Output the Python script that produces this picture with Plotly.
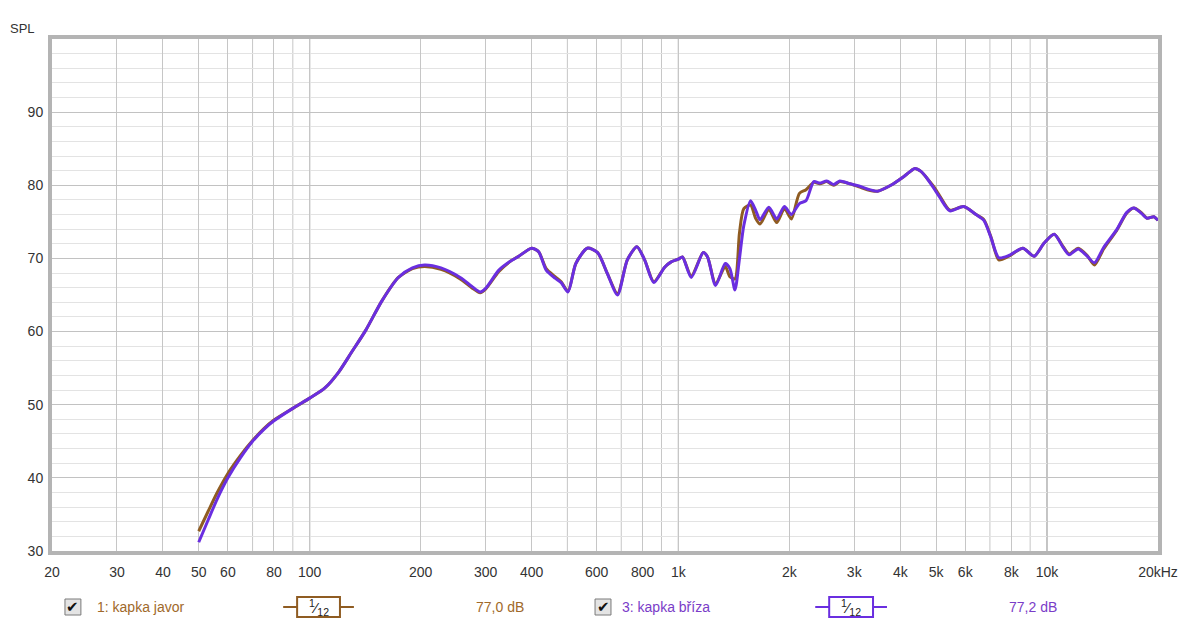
import plotly.graph_objects as go
import numpy as np

# ---------------- data ----------------
freq = [50, 53, 56, 60, 65, 70, 75, 80, 90, 100, 110, 120, 130, 142, 157, 174, 190, 205, 227, 256,
        275, 290, 300, 326, 350, 369, 400, 418, 438, 463, 481, 502, 527, 566, 604, 641, 684,
        727, 772, 810, 858, 918, 954, 1000, 1026, 1084, 1168, 1200, 1262, 1340, 1380, 1424,
        1465, 1505, 1570, 1620, 1666, 1760, 1848, 1940, 2025, 2130, 2220, 2330, 2420, 2527,
        2640, 2740, 2920, 3090, 3255, 3470, 3770, 4115, 4380, 4550, 4720, 4930, 5125, 5450,
        5940, 6420, 6740, 7040, 7400, 7880, 8600, 9230, 9820, 10460, 11060, 11480, 12150,
        12800, 13450, 14240, 15440, 16460, 17200, 18000, 18680, 19500, 20000]

spl_briza = [31.2, 34.2, 37.0, 40.0, 42.8, 45.0, 46.6, 47.8, 49.5, 50.9, 52.3, 54.5, 57.2, 60.2, 64.2,
             67.4, 68.7, 69.1, 68.7, 67.4, 66.2, 65.4, 65.9, 68.4, 69.6, 70.3, 71.4, 70.9, 68.4,
             67.3, 66.7, 65.4, 69.3, 71.4, 70.8, 68.0, 65.0, 69.8, 71.6, 69.8, 66.7, 68.8, 69.5,
             69.9, 70.2, 67.4, 70.8, 70.2, 66.3, 69.3, 68.6, 65.7, 70.0, 74.5, 77.9, 76.6, 75.3,
             77.0, 75.4, 77.1, 76.0, 77.5, 77.9, 80.5, 80.3, 80.6, 80.1, 80.6, 80.2, 79.9, 79.5,
             79.2, 80.0, 81.3, 82.3, 81.9, 81.0, 79.6, 78.3, 76.5, 77.1, 76.0, 75.2, 72.9, 70.1,
             70.4, 71.4, 70.3, 72.1, 73.3, 71.5, 70.5, 71.3, 70.4, 69.4, 71.5, 73.9, 76.3, 76.9,
             76.2, 75.5, 75.7, 75.2]

spl_javor = [32.7, 35.4, 37.9, 40.6, 43.1, 45.1, 46.7, 47.9, 49.5, 50.9, 52.3, 54.5, 57.2, 60.2, 64.2,
             67.4, 68.6, 68.9, 68.5, 67.2, 66.0, 65.3, 65.8, 68.2, 69.6, 70.3, 71.4, 70.9, 68.6,
             67.5, 66.8, 65.5, 69.3, 71.4, 70.8, 68.0, 65.2, 69.8, 71.6, 69.8, 66.8, 68.8, 69.5,
             69.9, 70.2, 67.6, 70.8, 70.2, 66.5, 68.9, 67.5, 67.2, 73.5, 76.8, 77.3, 75.5, 74.7,
             76.7, 74.9, 76.8, 75.4, 78.9, 79.4, 80.4, 80.2, 80.5, 80.0, 80.5, 80.2, 79.8, 79.4,
             79.2, 80.0, 81.3, 82.3, 81.9, 81.0, 79.8, 78.5, 76.6, 77.1, 76.0, 75.3, 73.0, 69.8,
             70.3, 71.4, 70.3, 72.1, 73.3, 71.6, 70.6, 71.4, 70.5, 69.1, 71.3, 73.8, 76.2, 76.9,
             76.3, 75.5, 75.7, 75.2]

x_ticks = [20, 30, 40, 50, 60, 80, 100, 200, 300, 400, 600, 800, 1000,
           2000, 3000, 4000, 5000, 6000, 8000, 10000, 20000]
x_labels = ["20", "30", "40", "50", "60", "80", "100", "200", "300", "400", "600",
            "800", "1k", "2k", "3k", "4k", "5k", "6k", "8k", "10k", "20kHz"]
x_unlabeled_grid = [70, 90, 500, 700, 900, 7000, 9000]
x_major = [100, 1000, 10000]
y_ticks = [30, 40, 50, 60, 70, 80, 90]

series_names = ["1: kapka javor", "3: kapka bříza"]
series_levels = ["77,0 dB", "77,2 dB"]
line_colors = ["#8f5c22", "#6a2ee0"]
text_colors = ["#a0692a", "#7a3cc8"]

# ---------------- layout helpers ----------------
W, H = 1190, 622
L, R, T, B = 52, 1162, 39, 551


def px(x):
    return (x - L) / (R - L)


def py(y):
    return (B - y) / (B - T)


FONT = "Liberation Sans, Arial, sans-serif"

fig = go.Figure()
fig.add_trace(go.Scatter(x=freq, y=spl_javor, mode="lines", name=series_names[0],
                         line=dict(color=line_colors[0], width=3, shape="spline", smoothing=0.7)))
fig.add_trace(go.Scatter(x=freq, y=spl_briza, mode="lines", name=series_names[1],
                         line=dict(color=line_colors[1], width=3, shape="spline", smoothing=0.7)))

shapes = []
for f in x_unlabeled_grid:
    shapes.append(dict(type="line", xref="x", yref="paper", x0=f, x1=f, y0=0, y1=1,
                       line=dict(color="#c6c6c6", width=1), layer="below"))
for f in x_major:
    shapes.append(dict(type="line", xref="x", yref="paper", x0=f, x1=f, y0=0, y1=1,
                       line=dict(color="#858585", width=1), layer="below"))
# frame
shapes.append(dict(type="rect", xref="paper", yref="paper", x0=px(L - 2), x1=px(R + 2),
                   y0=py(B + 2), y1=py(T - 2), line=dict(color="#b4b4b4", width=4), layer="above"))

annotations = [dict(text="SPL", xref="paper", yref="paper", x=px(8), y=py(28), xanchor="left",
                    yanchor="middle", showarrow=False, font=dict(family=FONT, size=13, color="#333"))]

legend_pos = [dict(cb=65, txt=95, w0=284, b0=298, b1=341, w1=355, lvl=476),
              dict(cb=597, txt=622, w0=818, b0=832, b1=876, w1=890, lvl=1010)]
ly = 607
for i, p in enumerate(legend_pos):
    # checkbox
    shapes.append(dict(type="rect", xref="paper", yref="paper", x0=px(p["cb"]), x1=px(p["cb"] + 16),
                       y0=py(ly + 8), y1=py(ly - 8), line=dict(color="#7a7a7a", width=1),
                       fillcolor="#e4e4e4"))
    annotations.append(dict(text="✔", xref="paper", yref="paper", x=px(p["cb"] + 8), y=py(ly),
                            xanchor="center", yanchor="middle", showarrow=False,
                            font=dict(family="DejaVu Sans", size=15, color="#111")))
    annotations.append(dict(text=series_names[i], xref="paper", yref="paper", x=px(p["txt"]), y=py(ly),
                            xanchor="left", yanchor="middle", showarrow=False,
                            font=dict(family=FONT, size=14, color=text_colors[i])))
    # smoothing widget
    shapes.append(dict(type="line", xref="paper", yref="paper", x0=px(p["w0"]), x1=px(p["w1"]),
                       y0=py(ly), y1=py(ly), line=dict(color=line_colors[i], width=2)))
    shapes.append(dict(type="rect", xref="paper", yref="paper", x0=px(p["b0"]), x1=px(p["b1"]),
                       y0=py(ly + 10), y1=py(ly - 10), line=dict(color=line_colors[i], width=2),
                       fillcolor="white"))
    annotations.append(dict(text="<sup>1</sup>⁄<sub>12</sub>", xref="paper", yref="paper",
                            x=px((p["b0"] + p["b1"]) / 2), y=py(ly), xanchor="center", yanchor="middle",
                            showarrow=False, font=dict(family=FONT, size=15, color="#222")))
    annotations.append(dict(text=series_levels[i], xref="paper", yref="paper", x=px(p["lvl"]), y=py(ly),
                            xanchor="left", yanchor="middle", showarrow=False,
                            font=dict(family=FONT, size=14, color=text_colors[i])))

fig.update_layout(
    width=W, height=H,
    margin=dict(l=L, r=W - R, t=T, b=H - B, pad=0),
    paper_bgcolor="white", plot_bgcolor="white",
    showlegend=False,
    font=dict(family=FONT, size=14, color="#333"),
    shapes=shapes, annotations=annotations,
    xaxis=dict(type="log", range=[np.log10(20), np.log10(20000)], tickvals=x_ticks, ticktext=x_labels,
               showgrid=True, gridcolor="#c6c6c6", gridwidth=1, zeroline=False, showline=False,
               ticks="outside", ticklen=8, tickcolor="rgba(0,0,0,0)",
               tickfont=dict(family=FONT, size=14, color="#333")),
    yaxis=dict(range=[30, 100], tickvals=y_ticks, showgrid=True, gridcolor="#c2c2c2", gridwidth=1,
               zeroline=False, showline=False, ticks="outside", ticklen=5, tickcolor="rgba(0,0,0,0)",
               tickfont=dict(family=FONT, size=14, color="#333"),
               minor=dict(dtick=2, showgrid=True, gridcolor="#e3e3e3", ticks="")),
)

fig.write_html("out.html")
